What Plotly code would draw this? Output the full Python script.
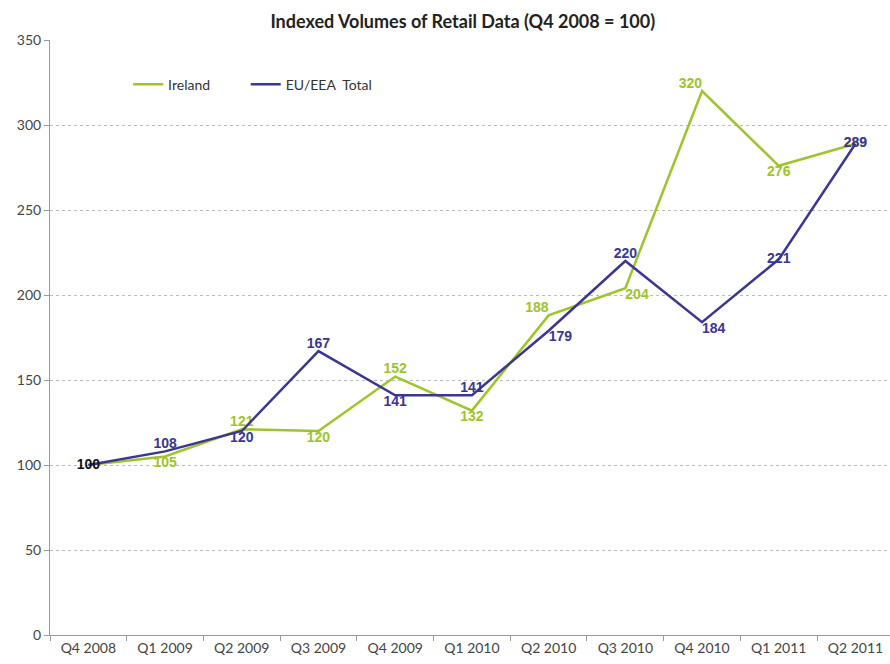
import plotly.graph_objects as go

quarters = ["Q4 2008", "Q1 2009", "Q2 2009", "Q3 2009", "Q4 2009", "Q1 2010",
            "Q2 2010", "Q3 2010", "Q4 2010", "Q1 2011", "Q2 2011"]
ireland = [100, 105, 121, 120, 152, 132, 188, 204, 320, 276, 289]
eu_eea = [100, 108, 120, 167, 141, 141, 179, 220, 184, 221, 289]
y_ticks = [0, 50, 100, 150, 200, 250, 300, 350]

ire_pos = ["middle center", "bottom center", "top center", "bottom center", "top center",
           "bottom center", "top left", "bottom right", "top left", "bottom center", "middle center"]
eu_pos = ["middle center", "top center", "bottom center", "top center", "bottom center",
          "top center", "bottom right", "top center", "bottom right", "middle center", "middle center"]

GREEN = "#9DC42A"
BLUE = "#3B3692"

ire_text = [""] + [str(v) for v in ireland[1:]]
eu_text = [str(v) for v in eu_eea]
eu_text_colors = ["#111111"] + [BLUE] * (len(eu_eea) - 1)

fig = go.Figure()
fig.add_trace(go.Scatter(
    x=quarters, y=ireland, name="Ireland", mode="lines+text",
    line=dict(color=GREEN, width=2.5),
    text=ire_text, textposition=ire_pos,
    textfont=dict(family="Liberation Sans", size=14, color=GREEN, weight="bold"),
    cliponaxis=False, legend="legend",
))
fig.add_trace(go.Scatter(
    x=quarters, y=eu_eea, name="EU/EEA  Total", mode="lines+text",
    line=dict(color=BLUE, width=2.5),
    text=eu_text, textposition=eu_pos,
    textfont=dict(family="Liberation Sans", size=14, color=eu_text_colors, weight="bold"),
    cliponaxis=False, legend="legend2",
))

legend_style = dict(orientation="h", y=0.925, xanchor="left", yanchor="middle",
                    font=dict(family="Lato", size=14, color="#333333"),
                    bgcolor="rgba(0,0,0,0)", itemwidth=30)

fig.update_layout(
    width=890, height=664,
    margin=dict(l=50, r=0, t=40, b=29),
    paper_bgcolor="white", plot_bgcolor="white",
    title=dict(text="<b>Indexed Volumes of Retail Data (Q4 2008 = 100)</b>",
               x=0.52, xanchor="center", y=0.967, yanchor="middle",
               font=dict(family="Lato", size=18, color="#222222")),
    showlegend=True,
    legend=dict(x=0.093, **legend_style),
    legend2=dict(x=0.233, **legend_style),
    font=dict(family="Lato", size=13, color="#444444"),
)
fig.update_xaxes(
    type="category", range=[-0.5, 10.45], automargin=False,
    showline=True, linecolor="#999999", linewidth=1,
    ticks="outside", tickson="boundaries", ticklen=5, tickcolor="#999999",
    showgrid=False, tickfont=dict(family="Lato", size=14, color="#444444"),
)
fig.update_yaxes(
    range=[0, 350], tickvals=y_ticks, automargin=False,
    showline=True, linecolor="#999999", linewidth=1,
    ticks="outside", ticklen=5, tickcolor="#999999",
    showgrid=True, gridcolor="#BBBBBB", griddash="dot", gridwidth=1,
    zeroline=False, tickfont=dict(family="Lato", size=14, color="#444444"),
)

fig.write_html("out.html", config={"displayModeBar": False},
               post_script="document.body.style.margin='0px';")
